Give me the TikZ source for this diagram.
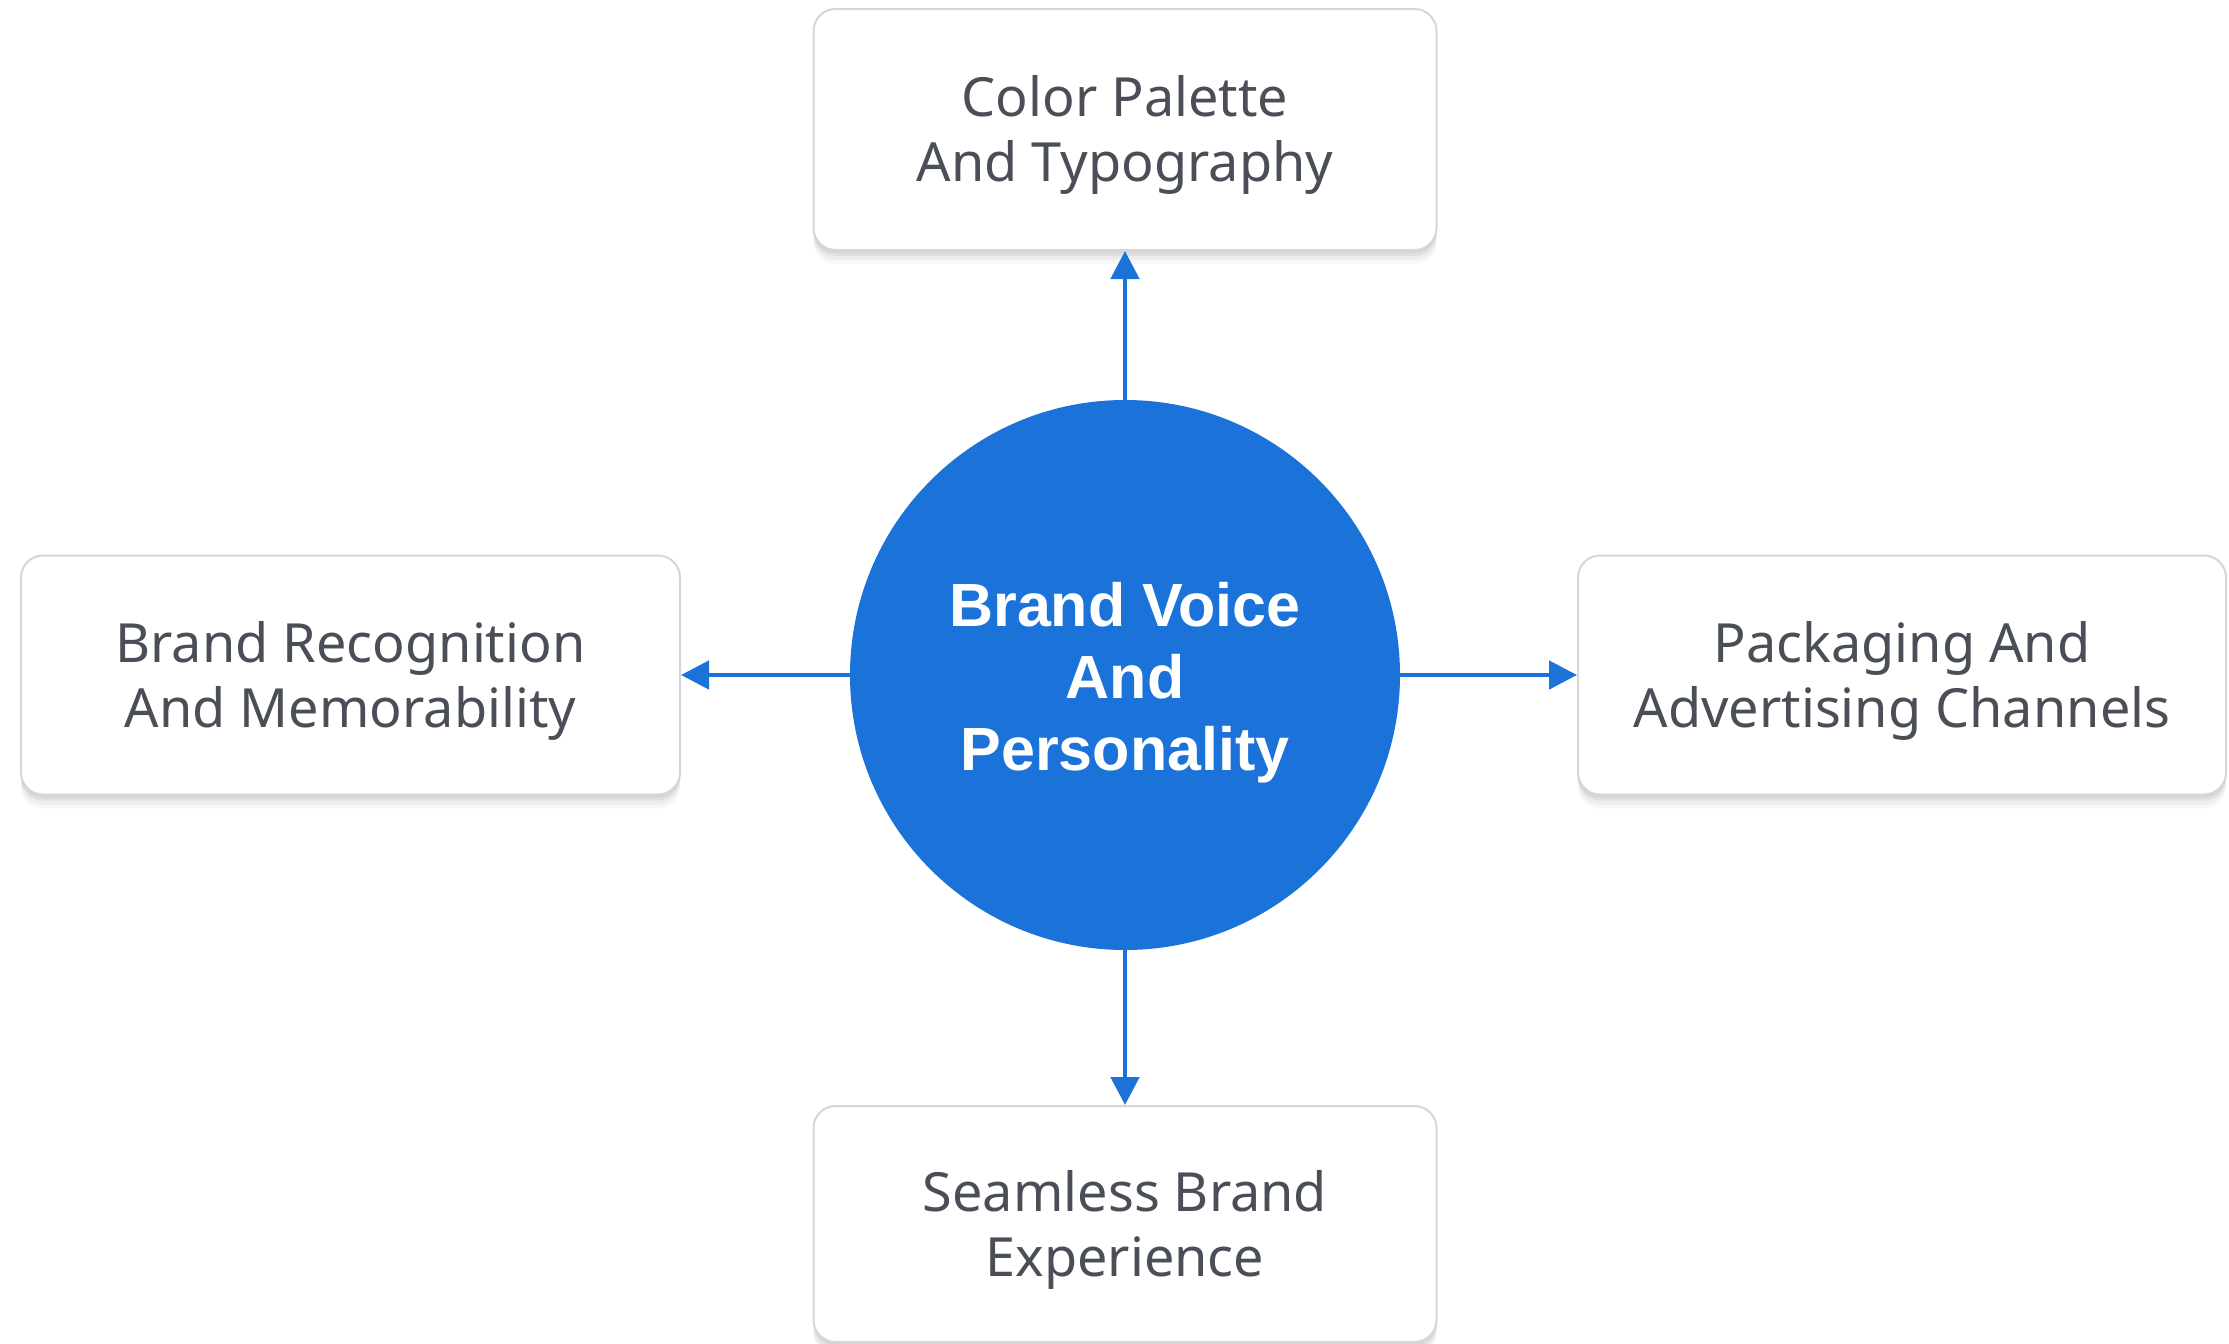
\documentclass[tikz,border=0pt]{standalone}
\usepackage{fontspec}
\setmainfont{Noto Sans}
\newfontfamily\boldfont{Liberation Sans}
\usetikzlibrary{arrows.meta,shadows}
\definecolor{brandblue}{HTML}{1B73D9}
\definecolor{boxtext}{HTML}{4A4F57}
\definecolor{boxline}{HTML}{D3D7DC}
\newcommand\topgap{\rule{0pt}{26pt}}
\tikzset{
  softshadow/.style={
    general shadow={shadow xshift=0pt, shadow yshift=-1.5pt, opacity=0.05, fill=black},
    general shadow={shadow xshift=0pt, shadow yshift=-3pt, opacity=0.05, fill=black},
    general shadow={shadow xshift=0pt, shadow yshift=-5pt, opacity=0.04, fill=black},
    general shadow={shadow xshift=0pt, shadow yshift=-7pt, opacity=0.03, fill=black}},
  infobox/.style={draw=boxline, line width=1pt, fill=white, rounded corners=11pt,
    align=center, text=boxtext, font=\fontsize{27}{32.5}\selectfont, softshadow},
  hub/.style={circle, fill=brandblue, text=white, align=center, inner sep=0pt,
    minimum size=275pt, font=\boldfont\bfseries\fontsize{30.5}{36}\selectfont},
  link/.style={draw=brandblue, line width=2.4pt, -{Triangle[length=14pt,width=14pt]}}
}
\begin{document}
\begin{tikzpicture}[x=0.5pt,y=-0.5pt]
\useasboundingbox[fill=white] (0,0) rectangle (2229,1344);
\node[hub] (c) at (1125,675) {\rule{0pt}{29.5pt}Brand Voice\\And\\Personality};
\node[infobox, minimum width=311.5pt, minimum height=120.5pt] (t) at (1125,129.5) {\topgap Color Palette\\And Typography};
\node[infobox, minimum width=329.5pt, minimum height=119.5pt] (l) at (350.5,675) {\topgap Brand Recognition\\And Memorability};
\node[infobox, minimum width=324pt, minimum height=119.5pt] (r) at (1902,675) {\topgap Packaging And\\Advertising Channels};
\node[infobox, minimum width=311.5pt, minimum height=118pt] (b) at (1125,1224) {\topgap Seamless Brand\\Experience};
\draw[link] (c.north) -- (t.south);
\draw[link] (c.west) -- (l.east);
\draw[link] (c.east) -- (r.west);
\draw[link] (c.south) -- (b.north);
\end{tikzpicture}
\end{document}
